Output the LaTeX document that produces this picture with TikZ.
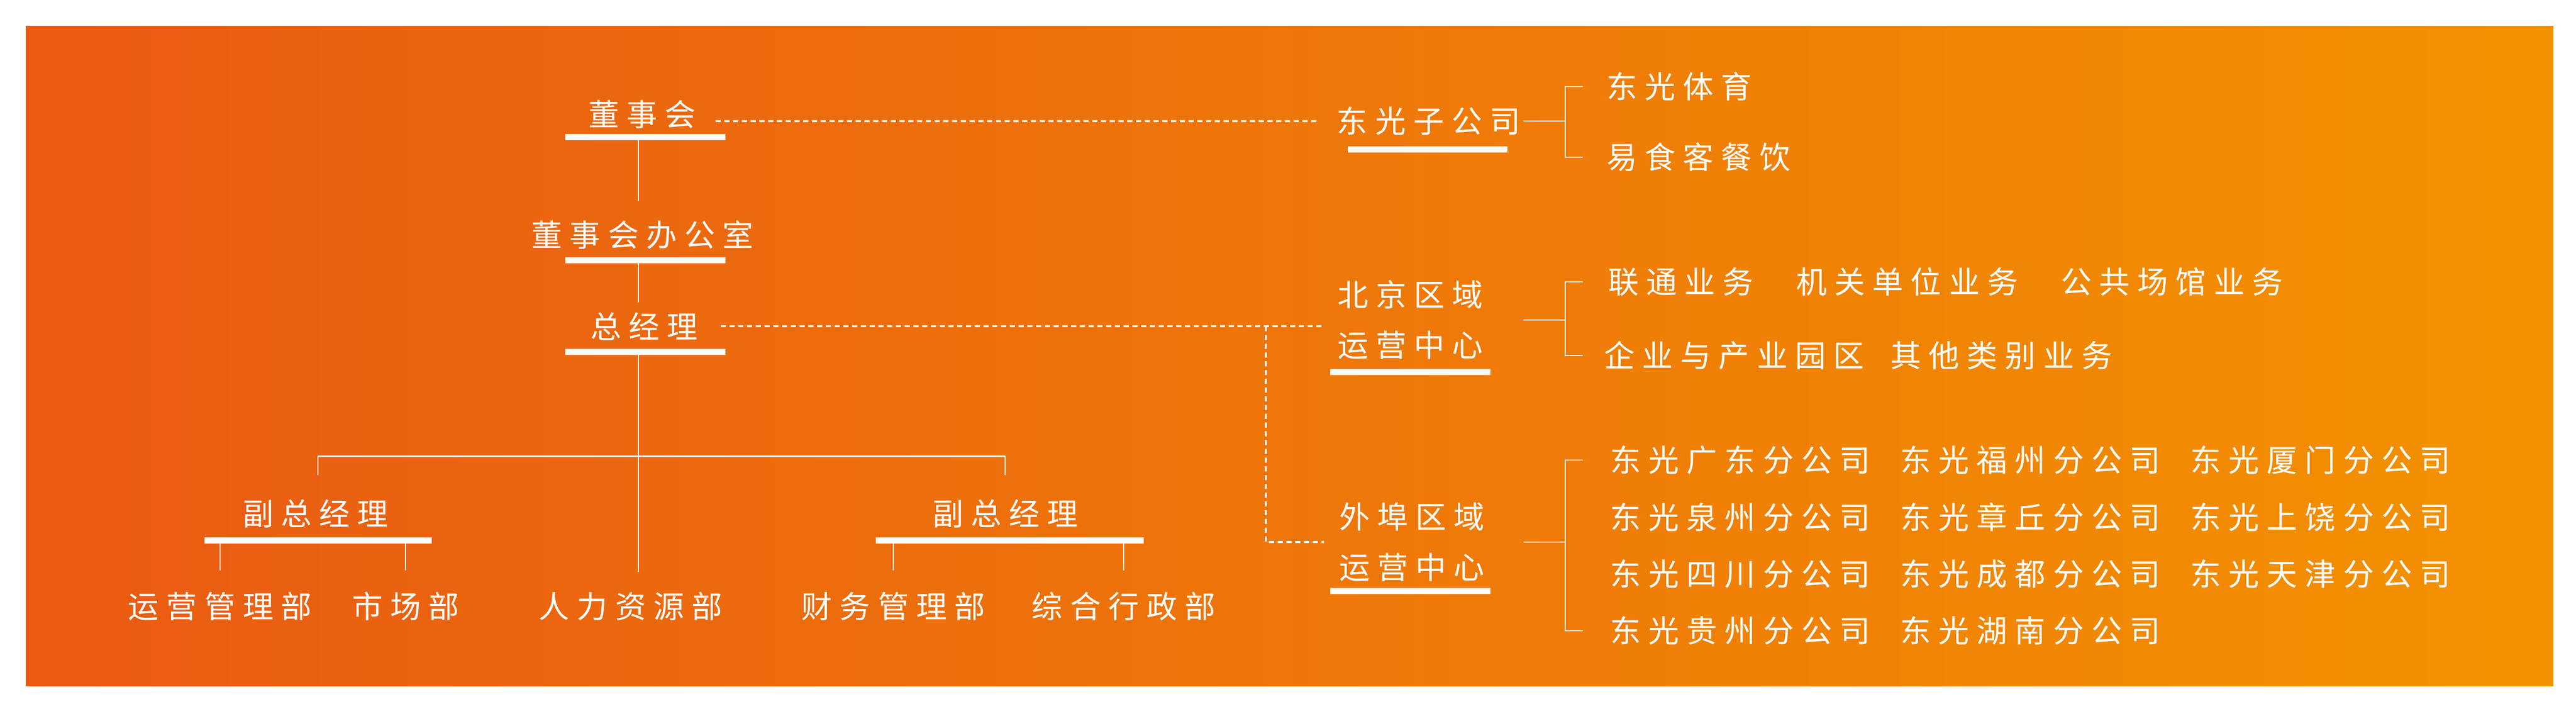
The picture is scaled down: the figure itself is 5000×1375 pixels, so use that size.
\documentclass[tikz,border=0pt]{standalone}
\usepackage{fontspec}
\setmainfont{Noto Sans CJK SC}[LetterSpace=24]
\usetikzlibrary{positioning}
\definecolor{deeporange}{RGB}{233,90,19}
\definecolor{lightorange}{RGB}{243,146,0}

\begin{document}
\begin{tikzpicture}[x=0.1mm,y=-0.1mm,
  label/.style={text=white,inner sep=0,font=\fontsize{17pt}{27.8pt}\selectfont},
  unit/.style={label,align=center},
  bar/.style={fill=white,inner sep=0,minimum height=1.15mm},
  link/.style={draw=white,line width=0.25mm},
  dotlink/.style={draw=white,line width=0.4mm,dash pattern=on 1mm off 0.7mm}]
\useasboundingbox (0,0) rectangle (5000,1375);
\fill[white] (0,0) rectangle (5000,1375);
\shade[left color=deeporange,right color=lightorange] (50,50) rectangle (4956,1331);
% main column
\node[label] (board) at (1246,222) {董事会};
\node[bar,minimum width=31.1mm] (boardbar) at (1252,266) {};
\node[label] (office) at (1247,456) {董事会办公室};
\node[bar,minimum width=31.1mm] (officebar) at (1252,505) {};
\node[label] (gm) at (1250,633) {总经理};
\node[bar,minimum width=31.1mm] (gmbar) at (1252,683) {};
\node[label] (vp1) at (612,997) {副总经理};
\node[bar,minimum width=44.1mm] (vp1bar) at (617,1049) {};
\node[label] (vp2) at (1951,997) {副总经理};
\node[bar,minimum width=52mm] (vp2bar) at (1960,1049) {};
\node[label] (ops) at (427,1177) {运营管理部};
\node[label] (mkt) at (787,1177) {市场部};
\node[label] (hr) at (1224,1177) {人力资源部};
\node[label] (fin) at (1734,1177) {财务管理部};
\node[label] (adm) at (2181,1177) {综合行政部};
\coordinate (trunk) at (1239,0);
\coordinate (split) at (1239,885);
\draw[link,shorten >=3.7mm] (boardbar.south -| trunk) -- (office.north -| trunk);
\draw[link,shorten >=1.8mm] (officebar.south -| trunk) -- (gm.north -| trunk);
\draw[link,shorten >=3.9mm] (gmbar.south -| trunk) -- (hr.north -| trunk);
\draw[link,line width=0.3mm] (vp1bar.north |- split) -- (split -| vp2.north);
\draw[link,shorten >=4.7mm] (vp1bar.north |- split) -- (vp1bar.north |- vp1.north);
\draw[link,shorten >=4.7mm] (vp2.north |- split) -- (vp2.north);
\foreach \x/\y in {ops/vp1bar,mkt/vp1bar,fin/vp2bar,adm/vp2bar}
  \draw[link,shorten >=4.2mm] (\x.north |- \y.south) -- (\x.north);
% right side
\node[label] (sub) at (2773,235) {东光子公司};
\node[bar,minimum width=31mm] (subbar) at (2771,290) {};
\node[unit] (bj) at (2737,621) {北京区域\\运营中心};
\node[bar,minimum width=31.1mm] (bjbar) at (2737,722) {};
\node[unit] (wb) at (2740,1052) {外埠区域\\运营中心};
\node[bar,minimum width=31.1mm] (wbbar) at (2737,1147) {};
\node[label,anchor=west] (sports) at (3118,168) {东光体育};
\node[label,anchor=west] (food) at (3118,305) {易食客餐饮};
\node[label,anchor=west] (unicom) at (3121,547) {联通业务};
\node[label,anchor=west] (gov) at (3486,547) {机关单位业务};
\node[label,anchor=west] (venue) at (4000,547) {公共场馆业务};
\node[label,anchor=west] (park) at (3113,690) {企业与产业园区};
\node[label,anchor=west] (other) at (3669,690) {其他类别业务};
\foreach \city [count=\i from 0] in {广东,福州,厦门,泉州,章丘,上饶,四川,成都,天津,贵州,湖南} {
  \pgfmathsetmacro\cx{3125+563*mod(\i,3)}
  \pgfmathsetmacro\cy{893+110.3*int(\i/3)}
  \node[label,anchor=west] (br\i) at (\cx,\cy) {东光\city 分公司};
}
\draw[dotlink,shorten <=3.8mm,shorten >=3.3mm] (board.east |- sub.west) -- (sub.west);
\draw[dotlink,shorten <=4.4mm,shorten >=2.8mm] (gm.east) -- (gm.east -| bj.west);
\coordinate (bend) at (2457,633);
\draw[dotlink,shorten >=2.8mm] (bend) |- (wb.west);
\coordinate (spine) at (3038,0);
\coordinate (tick) at (3072,0);
\foreach \grp/\top/\bot in {sub/sports/food,bj/unicom/park,wb/br0/br9} {
  \draw[link] (\top.west -| tick) -- (\top.west -| spine) -- (\bot.west -| spine) -- (\bot.west -| tick);
  \draw[link] (\grp.east -| spine) ++(-81,0) -- (\grp.east -| spine);
}
\end{tikzpicture}
\end{document}
